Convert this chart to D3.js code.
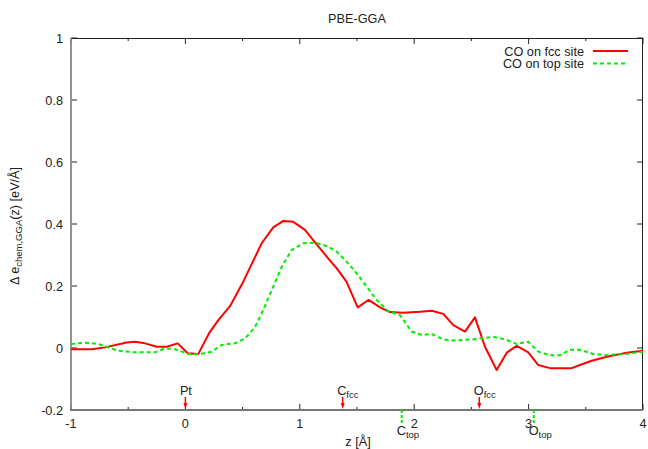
<!DOCTYPE html>
<html><head><meta charset="utf-8">
<script src="https://cdn.jsdelivr.net/npm/d3@7"></script>
<style>body{margin:0;background:#fff}svg{display:block}text{font-family:"Liberation Sans",Arial,Helvetica,sans-serif;fill:#222}</style>
</head><body>
<script>
const fccX = [-1,-0.819,-0.703,-0.513,-0.441,-0.353,-0.251,-0.163,-0.067,0.020,0.113,0.206,0.288,0.390,0.506,0.667,0.768,0.856,0.943,1.045,1.133,1.235,1.323,1.408,1.506,1.600,1.702,1.788,1.905,2.051,2.153,2.254,2.342,2.444,2.531,2.619,2.721,2.809,2.896,2.997,3.085,3.187,3.377,3.449,3.552,3.683,3.858,4.0];
const fccY = [-0.004,-0.004,0.002,0.018,0.020,0.015,0.004,0.004,0.015,-0.017,-0.019,0.047,0.090,0.135,0.214,0.338,0.389,0.410,0.407,0.381,0.341,0.295,0.257,0.214,0.131,0.155,0.131,0.116,0.114,0.117,0.120,0.110,0.074,0.053,0.099,0.004,-0.071,-0.015,0.007,-0.014,-0.055,-0.065,-0.065,-0.055,-0.041,-0.028,-0.015,-0.009];
const topX = [-1,-0.876,-0.761,-0.587,-0.441,-0.266,-0.178,-0.091,0.025,0.113,0.230,0.317,0.434,0.521,0.608,0.681,0.768,0.842,0.929,1.031,1.133,1.235,1.323,1.410,1.497,1.585,1.672,1.774,1.876,1.978,2.066,2.153,2.254,2.342,2.517,2.691,2.794,2.896,2.997,3.085,3.187,3.274,3.362,3.449,3.566,3.683,3.858,4.0];
const topY = [0.013,0.017,0.013,-0.009,-0.014,-0.014,-0.001,-0.004,-0.019,-0.020,-0.012,0.010,0.015,0.031,0.067,0.123,0.198,0.262,0.316,0.338,0.340,0.329,0.311,0.278,0.241,0.198,0.155,0.119,0.106,0.053,0.042,0.045,0.028,0.024,0.028,0.036,0.028,0.013,0.020,-0.012,-0.023,-0.023,-0.006,-0.006,-0.019,-0.023,-0.019,-0.012];
const xTicks = [-1,0,1,2,3,4];
const xMinor = [-0.5,0.5,1.5,2.5,3.5];
const yTicks = [-0.2,0,0.2,0.4,0.6,0.8,1];
const fccMarks = [{x:0,lab:"Pt",sub:""},{x:1.375,lab:"C",sub:"fcc"},{x:2.569,lab:"O",sub:"fcc"}];
const topMarks = [{x:1.891,lab:"C",sub:"top"},{x:3.045,lab:"O",sub:"top"}];

const W=648,H=449;
const svg=d3.select("body").append("svg").attr("width",W).attr("height",H);
const x=d3.scaleLinear().domain([-1,4]).range([71,643]);
const y=d3.scaleLinear().domain([-0.2,1]).range([410,38]);
const fs=12.7;

// title
svg.append("text").attr("x",357).attr("y",23).attr("text-anchor","middle").attr("font-size",fs).text("PBE-GGA");

// ticks
const g=svg.append("g");
xTicks.forEach(v=>{
  g.append("line").attr("x1",x(v)).attr("x2",x(v)).attr("y1",410).attr("y2",404).attr("stroke","#222");
  g.append("line").attr("x1",x(v)).attr("x2",x(v)).attr("y1",38).attr("y2",44).attr("stroke","#222");
  g.append("text").attr("x",x(v)).attr("y",428).attr("text-anchor","middle").attr("font-size",fs).text(v);
});
xMinor.forEach(v=>{
  g.append("line").attr("x1",x(v)).attr("x2",x(v)).attr("y1",410).attr("y2",407).attr("stroke","#222");
  g.append("line").attr("x1",x(v)).attr("x2",x(v)).attr("y1",38).attr("y2",41).attr("stroke","#222");
});
yTicks.forEach(v=>{
  g.append("line").attr("x1",71).attr("x2",77).attr("y1",y(v)).attr("y2",y(v)).attr("stroke","#222");
  g.append("line").attr("x1",643).attr("x2",637).attr("y1",y(v)).attr("y2",y(v)).attr("stroke","#222");
  g.append("text").attr("x",63).attr("y",y(v)+4.5).attr("text-anchor","end").attr("font-size",fs).text(v);
});

// border
svg.append("line").attr("x1",71).attr("x2",643).attr("y1",38.5).attr("y2",38.5).attr("stroke","#222");
svg.append("line").attr("x1",642.5).attr("x2",642.5).attr("y1",38).attr("y2",410).attr("stroke","#222");
svg.append("line").attr("x1",71).attr("x2",71).attr("y1",38).attr("y2",411).attr("stroke","#888").attr("stroke-width",1.8);
svg.append("line").attr("x1",70).attr("x2",643).attr("y1",410).attr("y2",410).attr("stroke","#777").attr("stroke-width",1.8);

// curves
const line=d3.line().x(d=>x(d[0])).y(d=>y(d[1]));
svg.append("path").datum(fccX.map((v,i)=>[v,fccY[i]])).attr("d",line).attr("fill","none").attr("stroke","#ff0000").attr("stroke-width",2).attr("stroke-linejoin","round");
svg.append("path").datum(topX.map((v,i)=>[v,topY[i]])).attr("d",line).attr("fill","none").attr("stroke","#00ee00").attr("stroke-width",2).attr("stroke-dasharray","4,3");

// markers fcc (red arrows above axis)
fccMarks.forEach(m=>{
  const px=x(m.x);
  svg.append("line").attr("x1",px).attr("x2",px).attr("y1",397).attr("y2",405).attr("stroke","#ff0000").attr("stroke-width",1.5);
  svg.append("path").attr("d",`M${px-2},${403} L${px+2},${403} L${px},${409} Z`).attr("fill","#ff0000");
  const t=svg.append("text").attr("x",px-5.5).attr("y",395).attr("font-size",fs);
  t.append("tspan").text(m.lab);
  if(m.sub) t.append("tspan").attr("dy",3).attr("font-size",9.5).text(m.sub);
});
topMarks.forEach(m=>{
  const px=x(m.x);
  svg.append("line").attr("x1",px).attr("x2",px).attr("y1",410).attr("y2",423).attr("stroke","#00ee00").attr("stroke-width",2).attr("stroke-dasharray","3,2");
  const t=svg.append("text").attr("x",px-5).attr("y",435).attr("font-size",fs);
  t.append("tspan").text(m.lab);
  t.append("tspan").attr("dy",3).attr("font-size",9.5).text(m.sub);
});

// axis labels
const xl=svg.append("text").attr("x",358).attr("y",446).attr("text-anchor","middle").attr("font-size",fs).text("z [Å]");
const yl=svg.append("text").attr("transform","translate(19,226) rotate(-90)").attr("text-anchor","middle").attr("font-size",fs);
yl.append("tspan").text("Δ e");
yl.append("tspan").attr("dy",3).attr("font-size",9.5).text("chem,GGA");
yl.append("tspan").attr("dy",-3).text("(z) [eV/Å]");

// legend
const leg=[{t:"CO on fcc site",c:"#ff0000",d:null,yy:51},{t:"CO on top site",c:"#00ee00",d:"4,3",yy:63.5}];
leg.forEach(l=>{
  svg.append("text").attr("x",584).attr("y",l.yy+4.5).attr("text-anchor","end").attr("font-size",fs).text(l.t);
  const ln=svg.append("line").attr("x1",593).attr("x2",628).attr("y1",l.yy).attr("y2",l.yy).attr("stroke",l.c).attr("stroke-width",2);
  if(l.d) ln.attr("stroke-dasharray",l.d);
});
</script>
</body></html>
